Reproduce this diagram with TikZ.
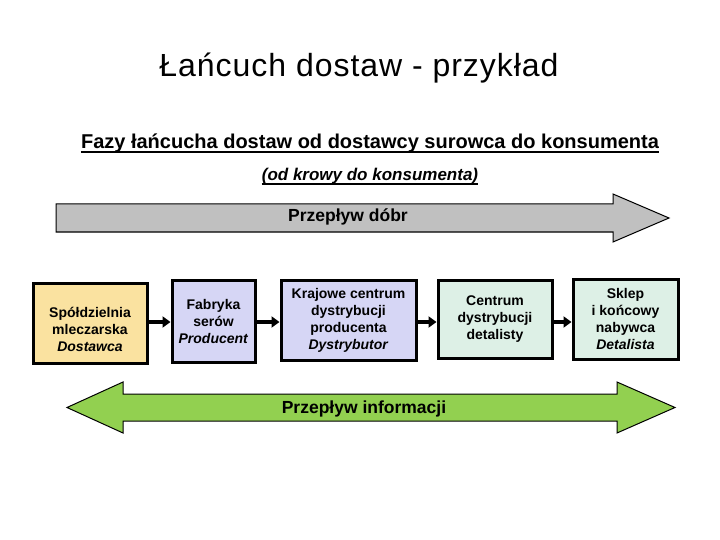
\documentclass[tikz,border=0pt]{standalone}
\usepackage{fontspec}
\setmainfont{Liberation Sans}
\usetikzlibrary{arrows.meta}
\definecolor{boxyellow}{RGB}{250,226,160}
\definecolor{boxlav}{RGB}{214,214,245}
\definecolor{boxmint}{RGB}{221,240,230}
\definecolor{arrgray}{RGB}{192,192,192}
\definecolor{arrgreen}{RGB}{146,208,80}
\tikzset{
  stagebox/.style={draw=black, line width=3pt, inner sep=0pt, align=center,
    font=\fontsize{14}{17}\selectfont\bfseries},
  boxtext/.style={inner sep=0pt, align=center,
    font=\fontsize{14}{17}\selectfont\bfseries},
  conn/.style={line width=3.5pt, -{Triangle[length=8pt,width=11pt]}},
  bigarrow/.style={draw=black, line width=1pt, line join=miter},
  ulabel/.style={inner sep=0pt, anchor=base},
  uline/.style={line width=1.5pt}
}
\begin{document}
\begin{tikzpicture}[x=1pt,y=-1pt]
\useasboundingbox (0,0) rectangle (720,540);
% title
\node[ulabel, font=\fontsize{32}{38}\selectfont\addfontfeature{LetterSpace=3}] (title) at (359,77) {Łańcuch dostaw - przykład};
% subtitle
\node[ulabel, font=\fontsize{20}{24}\selectfont\bfseries] (sub) at (370,149) {Fazy łańcucha dostaw od dostawcy surowca do konsumenta};
\draw[uline] ([yshift=-3pt]sub.base west) -- ([yshift=-3pt]sub.base east);
\node[ulabel, font=\fontsize{17}{20}\selectfont\bfseries\itshape] (sub2) at (370,181) {(od krowy do konsumenta)};
\draw[uline] ([yshift=-3pt]sub2.base west) -- ([yshift=-3pt]sub2.base east);
% goods flow arrow
\draw[bigarrow, fill=arrgray] (56,204) -- (613,204) -- (613,194) -- (669,218) -- (613,242) -- (613,232) -- (56,232) -- cycle;
\node[font=\fontsize{17.5}{20}\selectfont\bfseries, inner sep=0pt] (goods) at (348,217) {Przepływ dóbr};
% information flow arrow
\draw[bigarrow, fill=arrgreen] (67,407.5) -- (123,382) -- (123,394) -- (617,394) -- (617,382) -- (675,407.5) -- (617,433) -- (617,421) -- (123,421) -- (123,433) -- cycle;
\node[font=\fontsize{17.5}{20}\selectfont\bfseries, inner sep=0pt] (info) at (364,409) {Przepływ informacji};
% stages
\node[stagebox, fill=boxyellow, minimum width=114pt, minimum height=80pt] (b1) at (90,323) {};
\node[boxtext] (t1) at (90,329) {Spółdzielnia\\mleczarska\\\textit{Dostawca}};
\node[stagebox, fill=boxlav, minimum width=83pt, minimum height=82pt] (b2) at (213.5,321) {Fabryka\\serów\\\textit{Producent}};
\node[stagebox, fill=boxlav, minimum width=135pt, minimum height=80pt] (b3) at (348.5,320) {Krajowe centrum\\dystrybucji\\producenta\\\textit{Dystrybutor}};
\node[stagebox, fill=boxmint, minimum width=114pt, minimum height=78pt] (b4) at (495,319) {Centrum\\dystrybucji\\detalisty};
\node[stagebox, fill=boxmint, minimum width=105pt, minimum height=80pt] (b5) at (625.5,319) {Sklep\\i końcowy\\nabywca\\\textit{Detalista}};
% connectors
\coordinate (y0) at (0,322);
\draw[conn] (b1.east |- y0) -- (b2.west |- y0);
\draw[conn] (b2.east |- y0) -- (b3.west |- y0);
\draw[conn] (b3.east |- y0) -- (b4.west |- y0);
\draw[conn] (b4.east |- y0) -- (b5.west |- y0);
\end{tikzpicture}
\end{document}
